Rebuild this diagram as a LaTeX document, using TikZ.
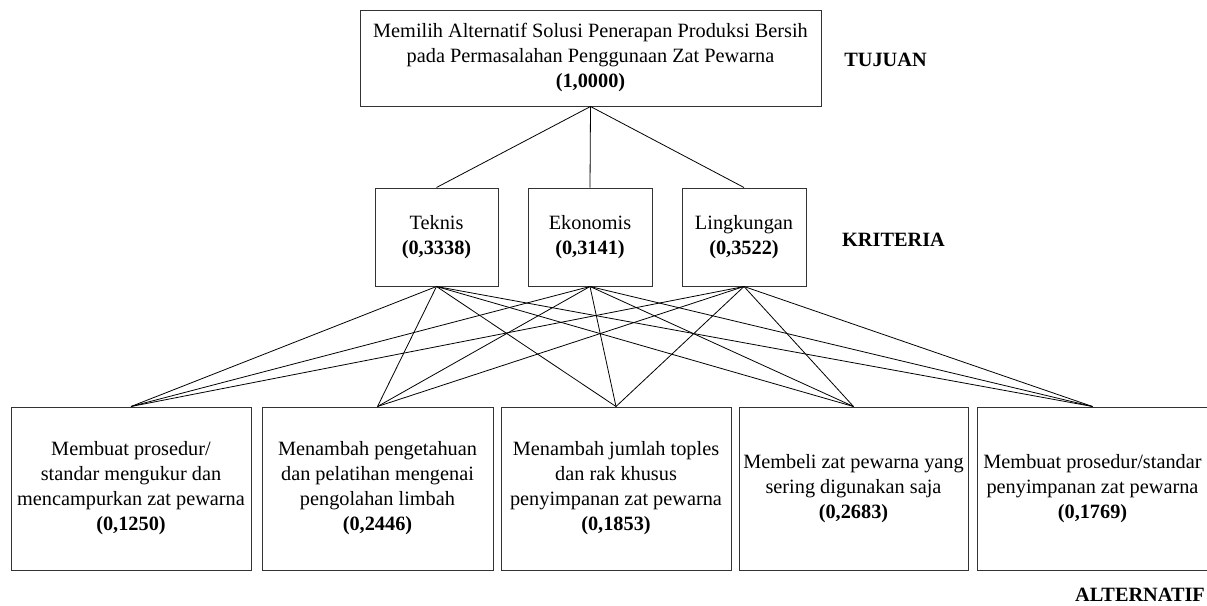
\documentclass[tikz,border=0pt]{standalone}
\usepackage{fontspec}
\setmainfont{Liberation Serif}
\begin{document}
\begin{tikzpicture}[x=1pt,y=-1pt,
  box/.style={draw=black!80,line width=1pt,rectangle,align=center,inner sep=0pt,
    font=\fontsize{20.3}{25}\selectfont},
  lbl/.style={font=\fontsize{20.3}{25}\selectfont\bfseries,inner sep=0pt},
  conn/.style={draw=black,line width=0.8pt}]
\useasboundingbox (0,0) rectangle (1207,605);
% goal
\node[box,minimum width=461pt,minimum height=96pt] (goal) at (590.5,58)
  {Memilih Alternatif Solusi Penerapan Produksi Bersih\\pada Permasalahan Penggunaan Zat Pewarna\\\textbf{(1,0000)}};
% criteria
\node[box,minimum width=123pt,minimum height=98pt] (k1) at (436.5,237) {Teknis\\\textbf{(0,3338)}};
\node[box,minimum width=124pt,minimum height=98pt] (k2) at (590,237) {Ekonomis\\\textbf{(0,3141)}};
\node[box,minimum width=124pt,minimum height=98pt] (k3) at (744,237) {Lingkungan\\\textbf{(0,3522)}};
% alternatives
\node[box,minimum width=240pt,minimum height=163pt] (a1) at (131,488.5)
  {Membuat prosedur/\\standar mengukur dan\\mencampurkan zat pewarna\\\textbf{(0,1250)}};
\node[box,minimum width=231pt,minimum height=163pt] (a2) at (377.5,488.5)
  {Menambah pengetahuan\\dan pelatihan mengenai\\pengolahan limbah\\\textbf{(0,2446)}};
\node[box,minimum width=230pt,minimum height=163pt] (a3) at (616,488.5)
  {Menambah jumlah toples\\dan rak khusus\\penyimpanan zat pewarna\\\textbf{(0,1853)}};
\node[box,minimum width=229pt,minimum height=163pt] (a4) at (853.5,488.5)
  {Membeli zat pewarna yang\\sering digunakan saja\\\textbf{(0,2683)}};
\node[box,minimum width=231pt,minimum height=163pt] (a5) at (1092.5,488.5)
  {Membuat prosedur/standar\\penyimpanan zat pewarna\\\textbf{(0,1769)}};
% level labels
\node[lbl] (tujuan) at (885.5,60) {TUJUAN};
\node[lbl] (kriteria) at (893.5,240) {KRITERIA};
\node[lbl] (alt) at (1140,595) {ALTERNATIF};
% connectors
\foreach \k in {k1,k2,k3} \draw[conn] (goal.south) -- (\k.north);
\foreach \k in {k1,k2,k3}
  \foreach \a in {a1,a2,a3,a4,a5}
    \draw[conn] (\k.south) -- (\a.north);
\end{tikzpicture}
\end{document}
